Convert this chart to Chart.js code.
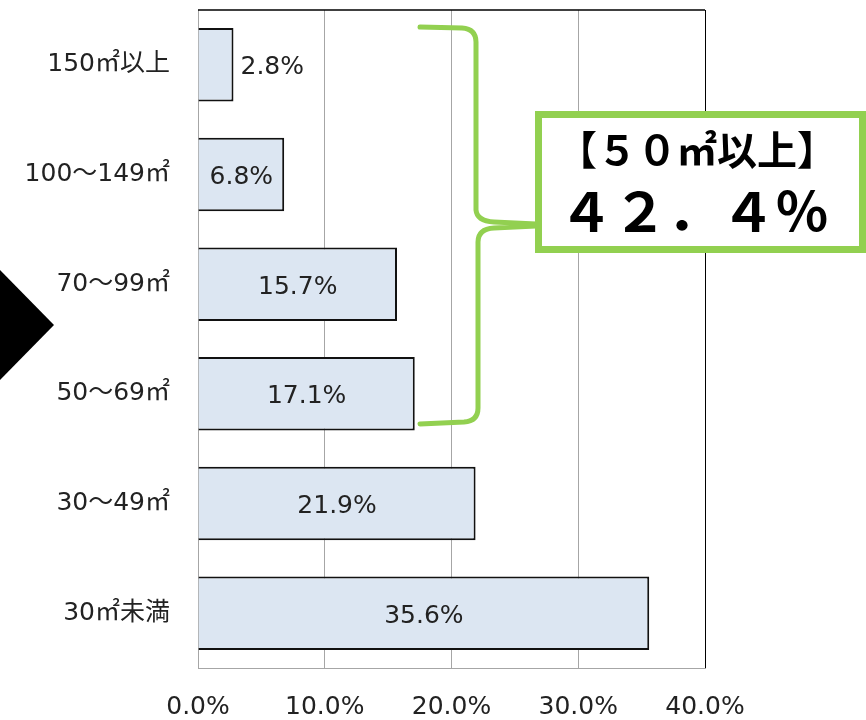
<!DOCTYPE html>
<html lang="ja">
<head>
    <meta charset="UTF-8">
    <title>住宅の床面積別割合</title>
    <style>
        html, body { margin: 0; padding: 0; background: #ffffff; }
        #wrap { width: 866px; height: 720px; }
    </style>
    <script src="https://cdn.jsdelivr.net/npm/chart.js"></script>
</head>
<body>
    <div id="wrap"><canvas id="grafico" width="866" height="720"></canvas></div>

    <script>
        // 床面積の区分と割合(%)
        const categories = ['150㎡以上', '100〜149㎡', '70〜99㎡', '50〜69㎡', '30〜49㎡', '30㎡未満'];
        const shares = [2.8, 6.8, 15.7, 17.1, 21.9, 35.6];
        const xTicks = [0, 10, 20, 30, 40];
        // 括弧でまとめる区分(50㎡以上)
        const groupedCount = 4;

        const labelFont = '"DejaVu Sans", "Noto Sans CJK JP", sans-serif';
        const green = '#92d050';

        function toZenkaku(str) {
            return str.replace(/[0-9.%]/g, c => String.fromCharCode(c.charCodeAt(0) + 0xFEE0));
        }

        // 棒の値ラベル
        const valueLabels = {
            id: 'valueLabels',
            afterDatasetsDraw(chart) {
                const ctx = chart.ctx;
                const meta = chart.getDatasetMeta(0);
                ctx.save();
                ctx.font = '25px ' + labelFont;
                ctx.fillStyle = '#222222';
                ctx.textBaseline = 'middle';
                meta.data.forEach((bar, i) => {
                    const text = shares[i].toFixed(1) + '%';
                    if (shares[i] < 5) {
                        ctx.textAlign = 'left';
                        ctx.fillText(text, bar.x + 7, bar.y + 3);
                    } else {
                        ctx.textAlign = 'center';
                        ctx.fillText(text, (bar.base + bar.x) / 2, bar.y + 3);
                    }
                });
                ctx.restore();
            }
        };

        // 上枠線
        const topBorder = {
            id: 'topBorder',
            beforeDatasetsDraw(chart) {
                const { ctx, chartArea } = chart;
                ctx.save();
                ctx.strokeStyle = '#000000';
                ctx.lineWidth = 1.5;
                ctx.beginPath();
                ctx.moveTo(chartArea.left, chartArea.top);
                ctx.lineTo(chartArea.right, chartArea.top);
                ctx.stroke();
                ctx.restore();
            }
        };

        // 左の三角、緑の括弧と合計の枠
        const callout = {
            id: 'callout',
            afterDraw(chart) {
                const ctx = chart.ctx;
                ctx.save();

                ctx.fillStyle = '#000000';
                ctx.beginPath();
                ctx.moveTo(0, 270);
                ctx.lineTo(54, 325);
                ctx.lineTo(0, 380);
                ctx.closePath();
                ctx.fill();

                ctx.strokeStyle = green;
                ctx.lineWidth = 5;
                ctx.lineCap = 'round';
                ctx.lineJoin = 'round';
                ctx.beginPath();
                ctx.moveTo(420, 27);
                ctx.lineTo(462, 28);
                ctx.quadraticCurveTo(476, 29, 476, 42);
                ctx.lineTo(476, 210);
                ctx.quadraticCurveTo(477, 221, 494, 222);
                ctx.lineTo(536, 224);
                ctx.moveTo(536, 226);
                ctx.lineTo(494, 228);
                ctx.quadraticCurveTo(478, 229, 478, 242);
                ctx.lineTo(478, 408);
                ctx.quadraticCurveTo(478, 421, 464, 422);
                ctx.lineTo(420, 424);
                ctx.stroke();

                ctx.fillStyle = '#ffffff';
                ctx.fillRect(535, 111, 331, 142);
                ctx.lineWidth = 7;
                ctx.lineCap = 'butt';
                ctx.lineJoin = 'miter';
                ctx.strokeRect(538.5, 114.5, 324, 135);

                const total = shares.slice(0, groupedCount).reduce((a, b) => a + b, 0);
                ctx.fillStyle = '#000000';
                ctx.textAlign = 'center';
                ctx.textBaseline = 'middle';
                ctx.font = 'bold 40px "Noto Sans CJK JP", sans-serif';
                ctx.fillText('【５０㎡以上】', 697, 150);
                ctx.font = 'bold 54px "Noto Sans CJK JP", sans-serif';
                ctx.fillText(toZenkaku(total.toFixed(1) + '%'), 694, 211);
                ctx.restore();
            }
        };

        new Chart(document.getElementById('grafico').getContext('2d'), {
            type: 'bar',
            data: {
                labels: categories,
                datasets: [{
                    data: shares,
                    backgroundColor: '#dce6f2',
                    borderColor: '#111111',
                    borderWidth: 2,
                    borderSkipped: 'start',
                    categoryPercentage: 1,
                    barPercentage: 0.67
                }]
            },
            options: {
                indexAxis: 'y',
                responsive: false,
                animation: false,
                devicePixelRatio: 1,
                layout: { padding: { top: 10, right: 161, left: 0, bottom: 0 } },
                plugins: {
                    legend: { display: false },
                    tooltip: { enabled: false }
                },
                scales: {
                    x: {
                        min: xTicks[0],
                        max: xTicks[xTicks.length - 1],
                        afterFit(scale) { scale.height = 52; },
                        afterBuildTicks(scale) { scale.ticks = xTicks.map(v => ({ value: v })); },
                        ticks: {
                            padding: 24,
                            color: '#222222',
                            font: { family: labelFont, size: 25 },
                            callback: v => v.toFixed(1) + '%'
                        },
                        grid: {
                            drawTicks: false,
                            lineWidth: 1,
                            color: ctx => (ctx.tick && ctx.tick.value === 40) ? '#000000' : '#a6a6a6'
                        },
                        border: { color: '#a6a6a6', width: 1 }
                    },
                    y: {
                        afterFit(scale) {
                            scale.width = 198;
                            scale.paddingTop = 0;
                            scale.paddingBottom = 0;
                        },
                        ticks: {
                            padding: 28,
                            color: '#222222',
                            font: { family: labelFont, size: 25 }
                        },
                        grid: { drawTicks: false, color: 'rgba(0,0,0,0)' },
                        border: { color: '#a6a6a6', width: 1 }
                    }
                }
            },
            plugins: [topBorder, valueLabels, callout]
        });
    </script>
</body>
</html>
